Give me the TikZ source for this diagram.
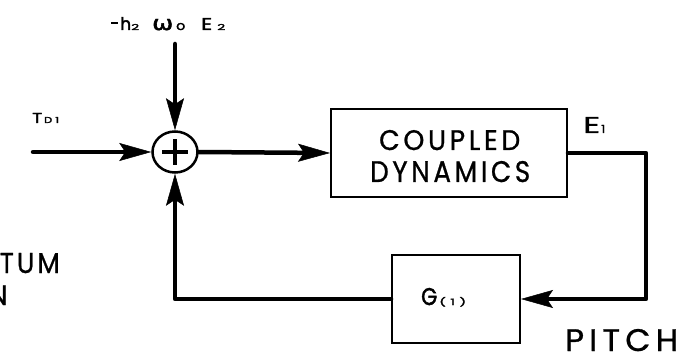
\documentclass[tikz,border=0pt]{standalone}
\usepackage{fontspec}
\usepackage{graphicx}
\setmainfont{Poppins}[FakeBold=0.9]
\newfontfamily\grk{DejaVu Sans}[FakeBold=0.9]
\usetikzlibrary{arrows.meta,shapes.geometric}
\newcommand{\fitto}[3]{\resizebox{#1pt}{#2pt}{#3}}
\newcommand{\spaced}[2]{{\addfontfeature{LetterSpace=#1}#2}}
\newcommand{\heavy}{\addfontfeature{FakeBold=2.2}}
\begin{document}
\begin{tikzpicture}[x=1pt,y=-1pt,
  wire/.style={line width=4.5pt, line join=round, line cap=round},
  arr/.style={wire,-{Stealth[length=32pt,width=18pt,inset=6pt,line width=0.5pt]}},
  blockbox/.style={draw, line width=2pt, rectangle, inner sep=0pt},
  lbl/.style={inner sep=0pt, anchor=base west, text=black}]
\useasboundingbox (0,0) rectangle (685,358);
\clip (0,0) rectangle (685,358);

\node[draw, ellipse, line width=2.5pt, minimum width=45pt, minimum height=41pt, inner sep=0pt] (sum) at (175,152) {};
\draw[line width=3.5pt] ([xshift=-13pt]sum.center) -- ([xshift=13pt]sum.center);
\draw[line width=3.5pt] ([yshift=-13pt]sum.center) -- ([yshift=13pt]sum.center);

\node[blockbox, minimum width=236pt, minimum height=88pt] (cd) at (449,153) {};
\node[lbl] (cdt1) at (379,150) {\fitto{141}{20}{\spaced{14}{COUPLED}}};
\node[lbl] (cdt2) at (370,182) {\fitto{160}{21}{\spaced{14}{DYNAMICS}}};
\node[blockbox, minimum width=128pt, minimum height=88pt] (g) at (456,299) {};
\node[lbl] (gt) at (421,305) {\heavy\fitto{16}{17}{G}\kern2pt\fitto{27}{8}{(\kern3pt1\kern3pt)}};

\coordinate (in) at (33,152);
\coordinate (topin) at (175,44);
\coordinate (c1) at (646,153);
\coordinate (c2) at (646,299);
\coordinate (c3) at (175,299);

\draw[arr] (in) -- (sum.west);
\draw[arr] (topin) -- (sum.north);
\draw[arr] (sum.east) -- (cd.west);
\draw[arr] (cd.east) -- (c1) -- (c2) -- (g.east);
\draw[arr] (g.west) -- (c3) -- (sum.south);

\node[lbl] (tlab) at (111,30) {\heavy\rule[5.5pt]{7pt}{2.5pt}\kern2pt\fitto{11}{13}{h}\fitto{8}{6}{2}\kern13pt\fitto{21}{11}{\grk\addfontfeature{FakeBold=2.2}ω}\kern3pt\fitto{9}{7}{o}\kern16pt\fitto{11}{12}{E}\kern5pt\fitto{8}{6}{2}};
\node[lbl] (td) at (32,123) {\heavy\fitto{10}{10}{T}\kern2pt\fitto{8}{6}{D}\kern3pt\fitto{4}{6}{1}};
\node[lbl] (e1) at (583,133) {\addfontfeature{FakeBold=1.5}\fitto{17}{16}{E}\kern1pt\fitto{4}{8}{1}};
\node[lbl] (pitch) at (565,351) {\fitto{113}{22}{\spaced{16}{PITCH}}};
\node[lbl, anchor=base east] (tum) at (60,273) {\fitto{60}{20}{\spaced{12}{TUM}}};
\node[lbl, anchor=base east] (nn) at (8,305) {\fontsize{28}{28}\selectfont N};
\end{tikzpicture}
\end{document}
